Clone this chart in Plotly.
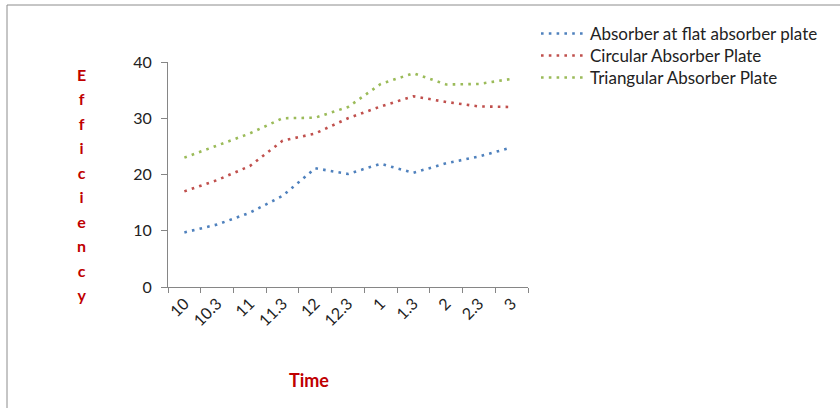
import plotly.graph_objects as go

times = ["10", "10.3", "11", "11.3", "12", "12.3", "1", "1.3", "2", "2.3", "3"]
flat = [9.7, 11.1, 13.2, 16.2, 21.1, 20.1, 21.9, 20.3, 22.0, 23.2, 24.8]
circular = [17.0, 19.0, 21.5, 26.0, 27.3, 30.0, 32.1, 33.9, 32.9, 32.1, 32.0]
triangular = [23.0, 25.1, 27.3, 30.0, 30.1, 32.0, 36.1, 38.0, 36.0, 36.1, 37.0]
names = ["Absorber at flat absorber plate", "Circular Absorber Plate", "Triangular Absorber Plate"]
colors = ["#4F81BD", "#C0504D", "#9BBB59"]
y_title = "Efficiency"
x_title = "Time"

FONT = "Lato"
W, H = 840, 408
legend_ids = ["legend", "legend2", "legend3"]
legend_tops = [16, 38, 60]

fig = go.Figure()
for vals, name, col, lid in zip([flat, circular, triangular], names, colors, legend_ids):
    fig.add_trace(go.Scatter(
        x=times, y=vals, name=name, mode="lines",
        line=dict(color=col, width=2.6, dash="2.6px,5.2px"),
        legend=lid,
    ))

axis_col = "#868686"
legend_common = dict(xanchor="left", yanchor="top", font=dict(size=17, color="#222222"),
                     bgcolor="rgba(0,0,0,0)", itemwidth=44, x=536 / W)
fig.update_layout(
    width=W, height=H,
    margin=dict(l=0, r=0, t=0, b=0),
    paper_bgcolor="white", plot_bgcolor="white",
    font=dict(family=FONT, size=16, color="#222222"),
    xaxis=dict(
        domain=[168 / W, 528 / W], type="category",
        showline=True, linecolor=axis_col, linewidth=1,
        ticks="outside", ticklen=5, tickcolor=axis_col, tickson="boundaries",
        tickangle=-45, showgrid=False, zeroline=False,
        tickfont=dict(size=16), range=[-0.5, 10.5], automargin=False,
    ),
    yaxis=dict(
        domain=[(H - 287) / H, (H - 62) / H], range=[0, 40],
        tickvals=[0, 10, 20, 30, 40],
        showline=True, linecolor=axis_col, linewidth=1,
        ticks="outside", ticklen=6, tickcolor=axis_col, ticklabelstandoff=6,
        showgrid=False, zeroline=False, tickfont=dict(size=16), automargin=False,
    ),
    showlegend=True,
)
for lid, top in zip(legend_ids, legend_tops):
    fig.update_layout({lid: dict(legend_common, y=1 - top / H)})

letters = "<br>".join(f"<span style='font-size:16px'>{c}</span>" for c in y_title)
fig.add_annotation(
    text=letters, xref="paper", yref="paper", x=81 / W, y=1 - 63 / H,
    xanchor="center", yanchor="top", showarrow=False, align="center",
    font=dict(family=FONT, size=18.8, color="#C00000", weight="bold"),
)
fig.add_annotation(
    text=f"<b>{x_title}</b>", xref="paper", yref="paper", x=309 / W, y=1 - 380 / H,
    xanchor="center", yanchor="middle", showarrow=False,
    font=dict(family=FONT, size=18, color="#C00000"),
)
# chart area border (top and left visible)
fig.add_shape(type="line", xref="paper", yref="paper", x0=7 / W, x1=1, y0=1 - 5 / H, y1=1 - 5 / H,
              line=dict(color="#8C8C8C", width=1))
fig.add_shape(type="line", xref="paper", yref="paper", x0=7 / W, x1=7 / W, y0=0, y1=1 - 5 / H,
              line=dict(color="#8C8C8C", width=1))

fig.write_html(
    "out.html",
    config={"displayModeBar": False},
    post_script="document.body.style.margin='0px';document.body.style.padding='0px';",
)
